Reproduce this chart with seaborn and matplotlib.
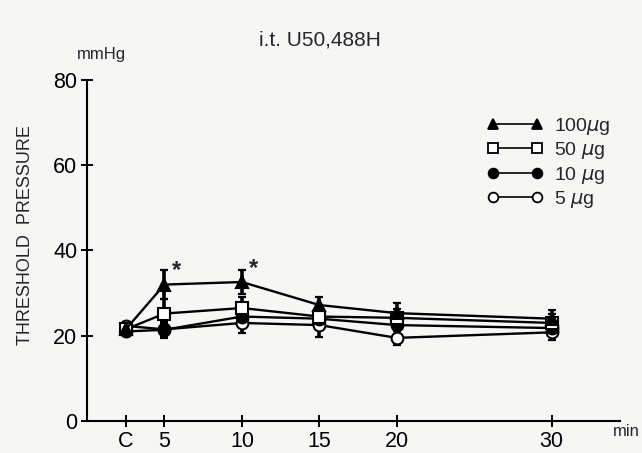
import numpy as np
import pandas as pd
import matplotlib
matplotlib.use("Agg")
import matplotlib.pyplot as plt
import seaborn as sns
from matplotlib.lines import Line2D

# ---- data ----
time_labels = ["C", "5", "10", "15", "20", "30"]
time_pos = [2.5, 5, 10, 15, 20, 30]
dose_labels = ["100$\\mu$g", "50 $\\mu$g", "10 $\\mu$g", "5 $\\mu$g"]
mean_100 = [21.5, 32.0, 32.6, 27.2, 25.3, 24.0]
sem_100 = [1.0, 3.5, 2.8, 1.8, 2.4, 2.0]
mean_50 = [21.5, 25.2, 26.5, 24.5, 24.2, 23.0]
sem_50 = [1.0, 3.4, 2.5, 2.0, 2.0, 2.0]
mean_10 = [21.0, 21.4, 24.5, 24.0, 22.5, 21.8]
sem_10 = [1.0, 2.0, 2.0, 2.0, 2.0, 1.8]
mean_5 = [22.3, 21.5, 23.0, 22.5, 19.5, 20.8]
sem_5 = [1.0, 1.5, 2.4, 2.8, 1.7, 1.8]
signif_pos = [5, 10]
signif_y = [35.4, 35.7]

sns.set_theme(style="white")
plt.rcParams["font.family"] = ["Liberation Sans", "DejaVu Sans"]

bg = "#f6f6f4"
fig = plt.figure(figsize=(6.42, 4.53), dpi=100, facecolor=bg)
ax = fig.add_axes([0.1355, 0.0706, 0.830, 0.753])
ax.set_facecolor(bg)

series = [
    (mean_5, sem_5, "o", "white", dose_labels[3]),
    (mean_10, sem_10, "o", "black", dose_labels[2]),
    (mean_50, sem_50, "s", "white", dose_labels[1]),
    (mean_100, sem_100, "^", "black", dose_labels[0]),
]

for mean, sem, mk, fc, lab in series:
    ax.errorbar(time_pos, mean, yerr=sem, fmt="none", ecolor="black",
                elinewidth=2.6, capsize=3, capthick=1.6, zorder=2)
for mean, sem, mk, fc, lab in series:
    df = pd.DataFrame({"time": time_pos, "pressure": mean})
    sns.lineplot(data=df, x="time", y="pressure", ax=ax, color="black",
                 marker=mk, markersize=8.5, markerfacecolor=fc,
                 markeredgecolor="black", markeredgewidth=1.5,
                 linewidth=1.7, zorder=3, legend=False)

for xp, yp in zip(signif_pos, signif_y):
    ax.text(xp + 0.75, yp, "*", fontsize=17, fontweight="bold",
            ha="center", va="center")

ax.set_xlim(0, 34.4)
ax.set_ylim(0, 80)
ax.set_xticks(time_pos)
ax.set_xticklabels(time_labels)
ax.set_yticks([0, 20, 40, 60, 80])
ax.set_xlabel("")
ax.set_ylabel("")
for s in ["top", "right"]:
    ax.spines[s].set_visible(False)
for s in ["left", "bottom"]:
    ax.spines[s].set_color("black")
    ax.spines[s].set_linewidth(1.5)
ax.tick_params(axis="both", direction="inout", length=8, width=1.4,
               colors="black", labelsize=15.5, left=True, bottom=True)
ax.tick_params(axis="y", pad=3)
ax.tick_params(axis="x", pad=3)
ax.grid(False)

handles = []
for mean, sem, mk, fc, lab in series[::-1]:
    handles.append(Line2D([0], [0], color="black", marker=mk, markersize=7,
                          markerfacecolor=fc, markeredgecolor="black",
                          markeredgewidth=1.3, linewidth=1.2, label=lab))
ax.legend(handles=handles, loc="center left",
          bbox_to_anchor=(470 / 642, 1 - 163 / 453),
          bbox_transform=fig.transFigure, frameon=False, numpoints=2,
          handlelength=2.85, handletextpad=0.55, fontsize=14,
          labelspacing=0.18)

fig.text(0.498, 0.912, "i.t. U50,488H", fontsize=15, ha="center", va="center")
fig.text(0.158, 0.879, "mmHg", fontsize=12, ha="center", va="center")
fig.text(0.039, 0.48, "THRESHOLD  PRESSURE", fontsize=13, rotation=90,
         ha="center", va="center")
fig.text(0.976, 0.048, "min", fontsize=12, ha="center", va="center")

fig.savefig("out.png", dpi=100, facecolor=bg)
